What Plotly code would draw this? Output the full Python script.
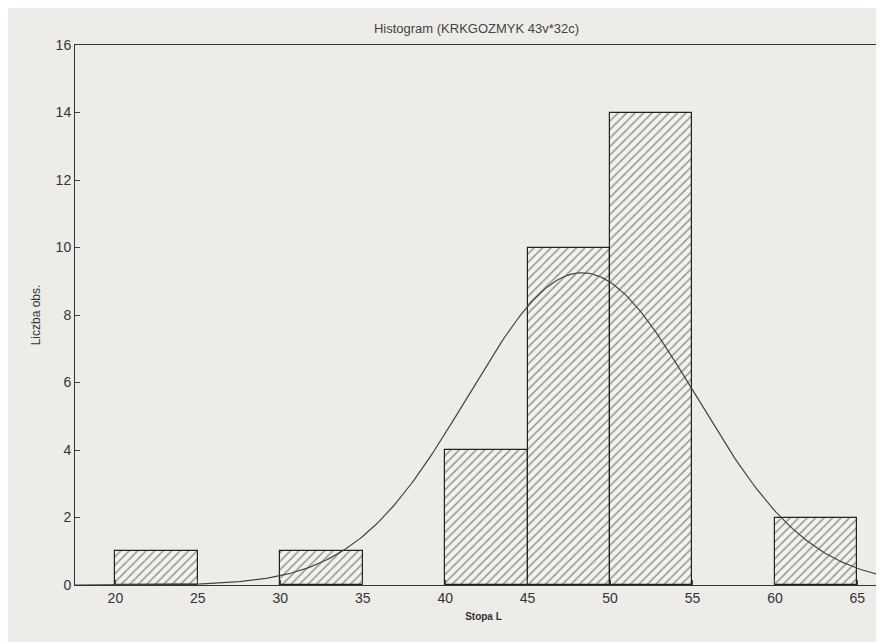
import numpy as np
import plotly.graph_objects as go

bin_left = [20, 30, 40, 45, 50, 60]
counts = [1, 1, 4, 10, 14, 2]
bin_width = 5
n_obs = 32
fit_mean = 48.3
fit_sd = 6.9

centers = [b + bin_width / 2 for b in bin_left]
xs = np.linspace(17.5, 67.2, 300)
ys = n_obs * bin_width / (fit_sd * np.sqrt(2 * np.pi)) * np.exp(-0.5 * ((xs - fit_mean) / fit_sd) ** 2)

fig = go.Figure()
fig.add_trace(go.Bar(x=centers, y=counts, width=[bin_width] * len(counts),
                     marker=dict(color="#f4f2ee", line=dict(color="#222", width=1.2),
                                 pattern=dict(shape="/", fgcolor="#333", size=6, solidity=0.25))))
fig.add_trace(go.Scatter(x=xs, y=ys, mode="lines", line=dict(color="#444", width=1.2)))
fig.update_layout(
    width=884, height=642, showlegend=False,
    paper_bgcolor="#eeece8", plot_bgcolor="#eeece8",
    margin=dict(l=67, r=0, t=37, b=65),
    title=dict(text="Histogram (KRKGOZMYK 43v*32c)", x=0.53, y=0.975, xanchor="center",
               font=dict(family="Liberation Sans", size=13, color="#444")),
    font=dict(family="Liberation Sans", color="#333", size=14),
    bargap=0,
)
fig.update_xaxes(range=[17.55, 67.1], tickvals=[20, 25, 30, 35, 40, 45, 50, 55, 60, 65],
                 showgrid=False, zeroline=False, showline=True, linecolor="#333", mirror=True,
                 ticks="inside", ticklen=5,
                 title=dict(text="<b>Stopa L</b>", font=dict(size=10), standoff=8))
fig.update_yaxes(range=[0, 16], tickvals=list(range(0, 17, 2)),
                 showgrid=False, zeroline=False, showline=True, linecolor="#333", mirror=True,
                 ticks="inside", ticklen=5,
                 title=dict(text="Liczba obs.", font=dict(size=12), standoff=12))
fig.write_html("out.html")
